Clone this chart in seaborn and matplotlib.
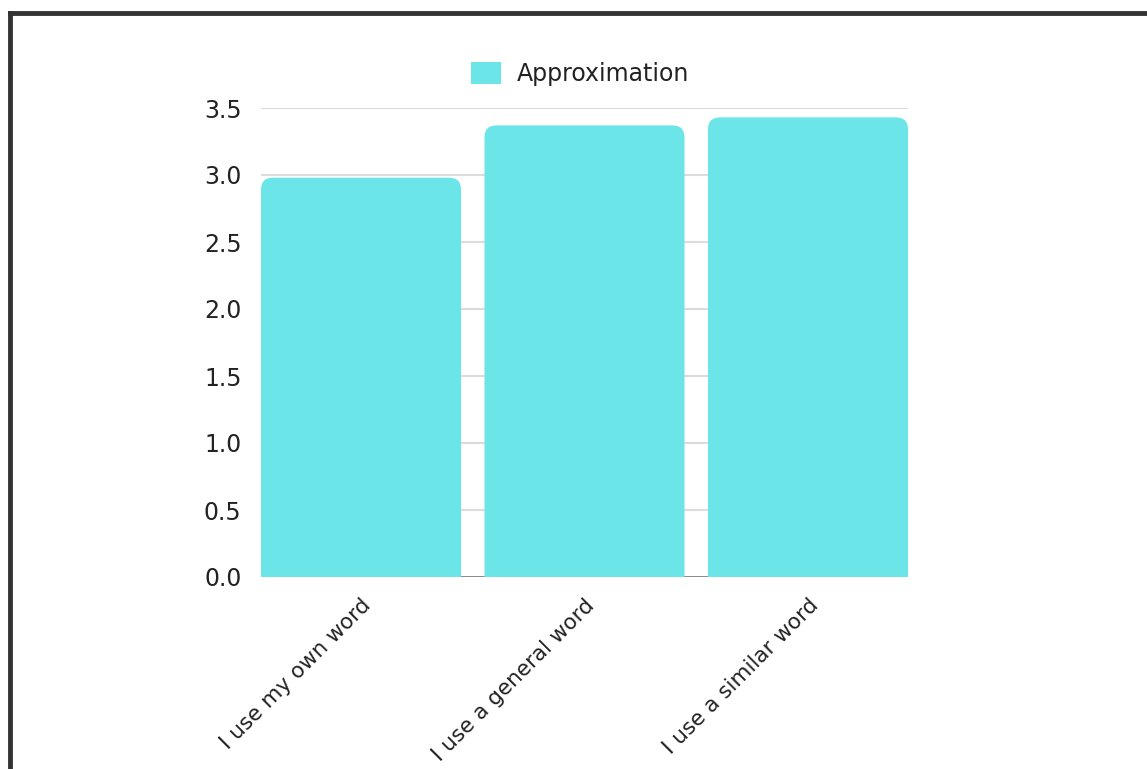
import matplotlib
matplotlib.use("Agg")
import matplotlib.pyplot as plt
from matplotlib.lines import Line2D
from matplotlib.patches import FancyBboxPatch, Patch
import pandas as pd
import seaborn as sns

categories = ["I use my own word", "I use a general word", "I use a similar word"]
values = [2.98, 3.37, 3.43]
series_name = "Approximation"
yticks = [0.0, 0.5, 1.0, 1.5, 2.0, 2.5, 3.0, 3.5]

bar_color = "#6ce5e8"
text_color = "#222222"
font_size = 17
xlabel_size = 15.5

sns.set_theme(style="white")
plt.rcParams["font.family"] = ["DejaVu Sans"]

df = pd.DataFrame({"category": categories, "value": values})

fig = plt.figure(figsize=(11.47, 7.69), dpi=100)
fig.patch.set_facecolor("white")
ax = fig.add_axes([261 / 1147, 192 / 769, 647 / 1147, 469 / 769])

sns.barplot(data=df, x="category", y="value", color=bar_color, width=0.895,
            saturation=1, ax=ax, zorder=3)

ax.set_xlim(-0.4475, 2.4475)
ax.set_ylim(0, 3.5)

# swap the square bars for ones with rounded top corners
x_px_per_unit = 647 / (ax.get_xlim()[1] - ax.get_xlim()[0])
y_px_per_unit = 469 / 3.5
radius = 12 / x_px_per_unit
for bar in list(ax.patches):
    x0, w, h = bar.get_x(), bar.get_width(), bar.get_height()
    bar.remove()
    extra = 0.2
    rounded = FancyBboxPatch((x0, -extra), w, h + extra,
                             boxstyle=f"round,pad=0,rounding_size={radius}",
                             mutation_aspect=x_px_per_unit / y_px_per_unit,
                             facecolor=bar_color, edgecolor="none", zorder=3)
    ax.add_patch(rounded)

ax.set_yticks(yticks)
ax.set_yticklabels([f"{t:.1f}" for t in yticks], fontsize=font_size, color=text_color)
for t in yticks[1:]:
    ax.axhline(t, color="#dcdcdc", lw=1.5, zorder=1)
ax.axhline(0, color="#777777", lw=1.2, zorder=2)

ax.set_xticks(range(len(categories)))
ax.set_xticklabels(categories, rotation=45, ha="right", rotation_mode="anchor",
                   fontsize=xlabel_size, color=text_color)
ax.tick_params(axis="y", length=0, pad=14)
ax.tick_params(axis="x", length=0, pad=13)
ax.set_xlabel("")
ax.set_ylabel("")
for s in ax.spines.values():
    s.set_visible(False)

handle = Patch(facecolor=bar_color, edgecolor="none", label=series_name)
fig.legend(handles=[handle], loc="center", bbox_to_anchor=(580 / 1147, 1 - 74 / 769),
           frameon=False, fontsize=font_size, handlelength=1.27, handleheight=1.1,
           handletextpad=0.64, labelcolor=text_color)

# window frame along the top and left edges
frame_kw = dict(transform=fig.transFigure, color="#333333", lw=3.5,
                solid_capstyle="projecting")
fig.add_artist(Line2D([9.5 / 1147, 1.0], [1 - 12.5 / 769] * 2, **frame_kw))
fig.add_artist(Line2D([9.5 / 1147] * 2, [0.0, 1 - 12.5 / 769], **frame_kw))

fig.savefig("out.png", dpi=100, facecolor="white")
